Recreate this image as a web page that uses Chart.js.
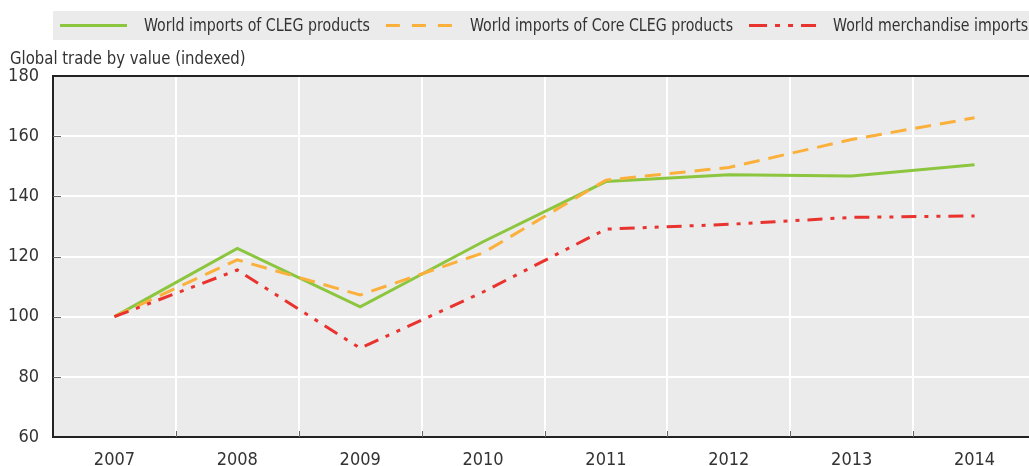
<!DOCTYPE html>
<html>
<head>
<meta charset="utf-8">
<script src="https://cdn.jsdelivr.net/npm/chart.js@4.4.1/dist/chart.umd.min.js"></script>
<style>
  html, body { margin: 0; padding: 0; background: #ffffff; overflow: hidden; }
  #wrap { position: relative; width: 1040px; height: 466px; }
</style>
</head>
<body>
<div id="wrap"><canvas id="c" width="1040" height="466"></canvas></div>
<script>
const years = ['2007', '2008', '2009', '2010', '2011', '2012', '2013', '2014'];
const clegImports = [100, 122.7, 103.3, 124.9, 144.9, 147.2, 146.8, 150.5];
const coreClegImports = [100, 118.9, 107.2, 121.2, 145.4, 149.6, 158.9, 166.1];
const merchandiseImports = [100, 115.5, 89.5, 108.2, 129.1, 130.7, 133.0, 133.5];
const seriesLabels = ['World imports of CLEG products', 'World imports of Core CLEG products', 'World merchandise imports'];
const yTickValues = [60, 80, 100, 120, 140, 160, 180];
const yAxisTitle = 'Global trade by value (indexed)';

const FONT = "'Liberation Sans Narrow', 'Arial Narrow', 'DejaVu Sans Condensed', sans-serif";
const TEXT = '#333333';
const BG = '#ebebeb';
const colors = ['#8cc63f', '#fbb03b', '#e8332f'];
const dashes = [[], [16, 9], [15, 8, 4, 8, 4, 8]];

function drawNarrowText(ctx, text, x, y, sx) {
  ctx.save();
  ctx.translate(x, y);
  ctx.scale(sx, 1);
  ctx.fillText(text, 0, 0);
  ctx.restore();
  return ctx.measureText(text).width * sx;
}

const plotBg = {
  id: 'plotBg',
  beforeDraw(chart) {
    const { ctx, chartArea: a } = chart;
    ctx.save();
    ctx.fillStyle = BG;
    ctx.fillRect(a.left, a.top, a.right - a.left, a.bottom - a.top);
    ctx.restore();
  },
  afterDraw(chart) {
    const { ctx, chartArea: a } = chart;
    const ys = chart.scales.y, xs = chart.scales.x;
    ctx.save();
    // inner ticks
    ctx.strokeStyle = '#666666';
    ctx.lineWidth = 1;
    yTickValues.forEach(v => {
      if (v === yTickValues[0] || v === yTickValues[yTickValues.length - 1]) return;
      const y = Math.round(ys.getPixelForValue(v)) + 0.5;
      ctx.beginPath(); ctx.moveTo(a.left, y); ctx.lineTo(a.left + 8, y); ctx.stroke();
    });
    for (let i = 0; i < years.length - 1; i++) {
      const x = Math.round((xs.getPixelForValue(i) + xs.getPixelForValue(i + 1)) / 2) + 0.5;
      ctx.beginPath(); ctx.moveTo(x, a.bottom); ctx.lineTo(x, a.bottom - 6); ctx.stroke();
    }
    // top border
    ctx.strokeStyle = '#222222';
    ctx.lineWidth = 2;
    ctx.beginPath(); ctx.moveTo(a.left - 1, a.top); ctx.lineTo(a.right + 10, a.top); ctx.stroke();
    // axis title
    ctx.fillStyle = TEXT;
    ctx.font = '18px ' + FONT;
    ctx.textBaseline = 'alphabetic';
    ctx.textAlign = 'left';
    drawNarrowText(ctx, yAxisTitle, 10, 64, 0.92);
    // legend
    ctx.fillStyle = BG;
    ctx.fillRect(53, 11, 1000, 29);
    ctx.font = '18px ' + FONT;
    ctx.textBaseline = 'middle';
    let x = 60;
    const ly = 25.5;
    seriesLabels.forEach((lab, i) => {
      ctx.strokeStyle = colors[i];
      ctx.lineWidth = 3;
      ctx.lineCap = 'butt';
      ctx.setLineDash(i === 1 ? [14, 12] : (i === 2 ? [18, 8, 5, 8, 5, 8] : []));
      ctx.beginPath(); ctx.moveTo(x, ly); ctx.lineTo(x + 67, ly); ctx.stroke();
      ctx.setLineDash([]);
      ctx.fillStyle = TEXT;
      const w = drawNarrowText(ctx, lab, x + 84, ly + 1, 0.875);
      x = x + 84 + w + 16;
    });
    ctx.restore();
  }
};

const seriesValues = [clegImports, coreClegImports, merchandiseImports];
new Chart(document.getElementById('c'), {
  type: 'line',
  data: {
    labels: years,
    datasets: seriesValues.map((vals, i) => ({
      label: seriesLabels[i],
      data: vals,
      borderColor: colors[i],
      borderWidth: 3,
      borderDash: dashes[i],
      borderCapStyle: 'butt',
      borderJoinStyle: 'miter',
      pointRadius: 0,
      tension: 0,
      fill: false
    })).reverse()
  },
  options: {
    responsive: false,
    animation: false,
    devicePixelRatio: 1,
    layout: { padding: { top: 76, left: 0, right: 4, bottom: 0 } },
    plugins: { legend: { display: false }, tooltip: { enabled: false } },
    scales: {
      x: {
        type: 'category',
        offset: true,
        grid: { offset: true, color: '#ffffff', lineWidth: 2, drawTicks: false },
        border: { display: true, color: '#222222', width: 2 },
        ticks: { color: TEXT, font: { family: FONT, size: 18 }, padding: 13, maxRotation: 0 },
        afterFit(s) { s.height = 29; }
      },
      y: {
        min: yTickValues[0],
        max: yTickValues[yTickValues.length - 1],
        afterBuildTicks(s) { s.ticks = yTickValues.map(v => ({ value: v })); },
        grid: { color: '#ffffff', lineWidth: 2, drawTicks: false },
        border: { display: true, color: '#222222', width: 2 },
        ticks: { color: TEXT, font: { family: FONT, size: 18 }, padding: 14 },
        afterFit(s) { s.width = 53; }
      }
    }
  },
  plugins: [plotBg]
});
</script>
</body>
</html>
